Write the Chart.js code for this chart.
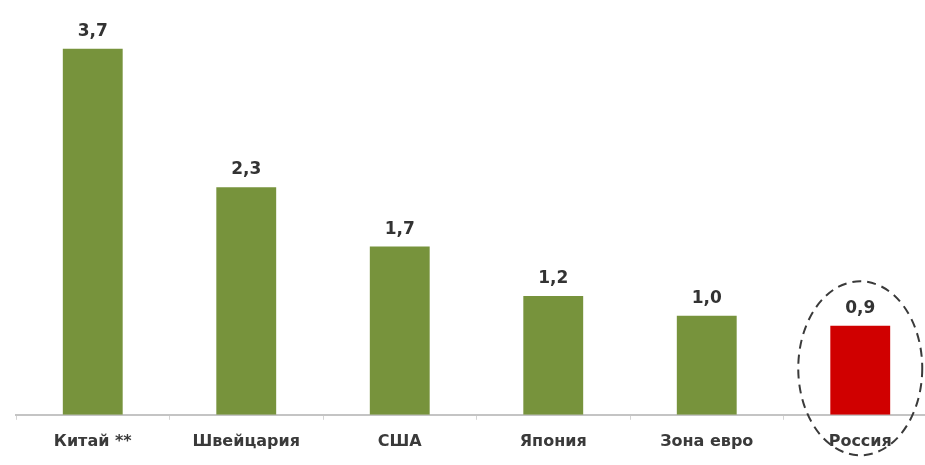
<!DOCTYPE html>
<html>
<head>
<meta charset="utf-8">
<script src="https://cdn.jsdelivr.net/npm/chart.js@4"></script>
<style>
  html, body { margin: 0; padding: 0; background: #fff; overflow: hidden; }
  #wrap { position: relative; width: 937px; height: 465px; }
</style>
</head>
<body>
<div id="wrap"><canvas id="chart"></canvas></div>
<script>
const categories = ["Китай **", "Швейцария", "США", "Япония", "Зона евро", "Россия"];
const values = [3.7, 2.3, 1.7, 1.2, 1.0, 0.9];
const barColors = ["#77933c", "#77933c", "#77933c", "#77933c", "#77933c", "#d00000"];
const highlightIndex = 5;

// value labels above each bar, e.g. "3,7"
const valueLabels = {
  id: "valueLabels",
  afterDatasetsDraw(chart) {
    const { ctx } = chart;
    const meta = chart.getDatasetMeta(0);
    ctx.save();
    ctx.font = "bold 17px 'DejaVu Sans'";
    ctx.fillStyle = "#333";
    ctx.textAlign = "center";
    ctx.textBaseline = "bottom";
    meta.data.forEach((bar, i) => {
      ctx.fillText(values[i].toFixed(1).replace(".", ","), bar.x, bar.y - 9);
    });
    ctx.restore();
  },
};

// dashed ellipse around the highlighted bar
const ringAround = {
  id: "ringAround",
  afterDraw(chart) {
    const { ctx, scales } = chart;
    const bar = chart.getDatasetMeta(0).data[highlightIndex];
    const base = scales.y.getPixelForValue(0);
    const cy = (bar.y + base) / 2 - 2;
    ctx.save();
    ctx.strokeStyle = "#3a3a3a";
    ctx.lineWidth = 2;
    ctx.setLineDash([9, 6]);
    ctx.beginPath();
    ctx.ellipse(bar.x, cy, 62, 87, 0, 0, Math.PI * 2);
    ctx.stroke();
    ctx.restore();
  },
};

new Chart(document.getElementById("chart"), {
  type: "bar",
  data: {
    labels: categories,
    datasets: [
      {
        data: values,
        backgroundColor: barColors,
        borderWidth: 0,
        barPercentage: 0.39,
        categoryPercentage: 1,
      },
    ],
  },
  options: {
    responsive: true,
    maintainAspectRatio: false,
    animation: false,
    layout: { padding: { left: 16, right: 0, top: 19, bottom: 2 } },
    plugins: {
      legend: { display: false },
      tooltip: { enabled: false },
    },
    scales: {
      y: {
        display: false,
        min: 0,
        max: 4,
      },
      x: {
        border: { color: "#c4c4c4", width: 2 },
        grid: {
          offset: true,
          drawOnChartArea: false,
          tickLength: 5,
          color: "#d4d4d4",
        },
        ticks: {
          color: "#3a3a3a",
          font: { family: "DejaVu Sans", weight: "bold", size: 16 },
          padding: 12,
          maxRotation: 0,
        },
      },
    },
  },
  plugins: [valueLabels, ringAround],
});
</script>
</body>
</html>
